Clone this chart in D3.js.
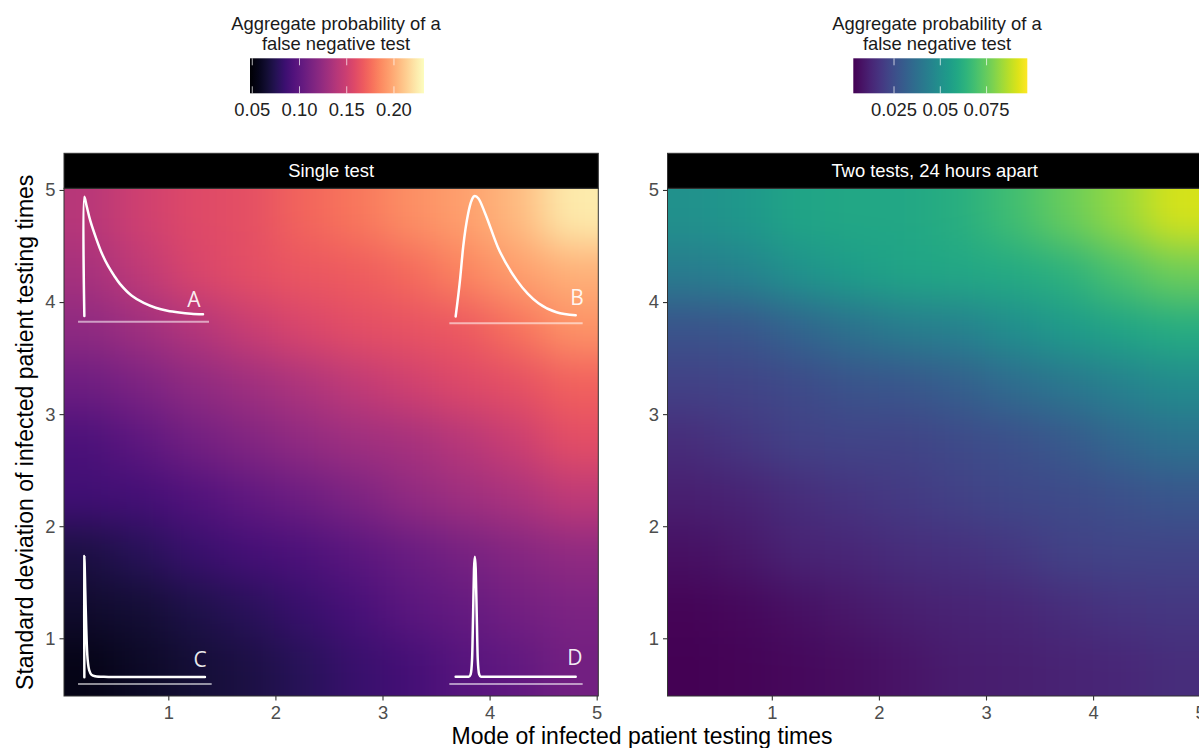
<!DOCTYPE html>
<html><head><meta charset="utf-8">
<script src="https://cdn.jsdelivr.net/npm/d3@7"></script>
<style>
body{margin:0;background:#fff;}
svg{display:block;font-family:"Liberation Sans",Arial,Helvetica,sans-serif;}
</style>
</head><body>
<svg id="chart" width="1199" height="748"></svg>
<script>
// ---------------- DATA ----------------
// grid cell centres (mode on x, standard deviation on y; rows listed top -> bottom)
const modeCenters = [0.25, 0.75, 1.25, 1.75, 2.25, 2.75, 3.25, 3.75, 4.25, 4.75];
const sdCenters   = [4.75, 4.25, 3.75, 3.25, 2.75, 2.25, 1.75, 1.25, 0.75];

// aggregate probability of a false negative test, single test
const singleTest = [
  [0.140,0.151,0.158,0.162,0.172,0.179,0.188,0.195,0.205,0.224],
  [0.133,0.144,0.155,0.161,0.165,0.168,0.174,0.184,0.194,0.201],
  [0.122,0.129,0.138,0.147,0.155,0.160,0.163,0.167,0.177,0.190],
  [0.107,0.114,0.122,0.129,0.136,0.144,0.151,0.157,0.162,0.170],
  [0.092,0.100,0.109,0.116,0.123,0.129,0.133,0.140,0.149,0.160],
  [0.087,0.088,0.094,0.101,0.107,0.114,0.123,0.129,0.134,0.144],
  [0.070,0.076,0.083,0.088,0.092,0.098,0.105,0.111,0.118,0.123],
  [0.063,0.066,0.072,0.077,0.083,0.090,0.098,0.103,0.109,0.114],
  [0.055,0.061,0.066,0.070,0.076,0.083,0.088,0.096,0.101,0.109]
];
// two tests, 24 hours apart
const twoTests = [
  [0.050,0.053,0.058,0.059,0.059,0.062,0.068,0.075,0.082,0.091],
  [0.042,0.045,0.051,0.055,0.058,0.059,0.060,0.063,0.070,0.076],
  [0.027,0.028,0.033,0.038,0.042,0.044,0.049,0.054,0.058,0.061],
  [0.021,0.022,0.024,0.027,0.028,0.031,0.036,0.040,0.044,0.048],
  [0.015,0.018,0.021,0.022,0.022,0.024,0.026,0.029,0.034,0.038],
  [0.011,0.012,0.015,0.017,0.019,0.021,0.023,0.024,0.026,0.028],
  [0.007,0.009,0.012,0.013,0.015,0.016,0.018,0.021,0.022,0.022],
  [0.004,0.005,0.007,0.009,0.011,0.012,0.013,0.015,0.017,0.018],
  [0.003,0.004,0.005,0.006,0.008,0.010,0.011,0.012,0.013,0.015]
];

const xTicks = [1, 2, 3, 4, 5];
const yTicks = [1, 2, 3, 4, 5];
const singleLegendTicks = [0.05, 0.10, 0.15, 0.20];
const twoLegendTicks = [0.025, 0.05, 0.075];
const singleDomain = [0.0476, 0.2318];
const twoDomain = [0.003, 0.097];
const panelTitles = ["Single test", "Two tests, 24 hours apart"];
const legendTitle = ["Aggregate probability of a", "false negative test"];
const xTitle = "Mode of infected patient testing times";
const yTitle = "Standard deviation of infected patient testing times";

// illustrative inset distribution shapes (normalised: u across, v up)
const shapeA = [[0,0],[0,1],[0.02,0.92],[0.05,0.80],[0.1,0.65],[0.15,0.52],[0.2,0.42],[0.25,0.34],[0.3,0.27],[0.4,0.17],[0.5,0.11],[0.6,0.07],[0.7,0.045],[0.8,0.03],[0.9,0.02],[1,0.015]];
const shapeB = [[0,0],[0.036,0.3],[0.063,0.58],[0.105,0.86],[0.135,0.97],[0.16,1],[0.19,0.98],[0.244,0.86],[0.35,0.58],[0.51,0.3],[0.6,0.19],[0.69,0.11],[0.84,0.035],[1,0.01]];
const shapeC = [[0,0],[0,1],[0.008,0.7],[0.016,0.4],[0.027,0.15],[0.04,0.06],[0.06,0.02],[0.09,0.008],[0.2,0.003],[1,0.003]];
const shapeD = [[0,0],[0.11,0],[0.125,0.02],[0.137,0.15],[0.145,0.5],[0.153,0.9],[0.16,1],[0.167,0.9],[0.176,0.5],[0.184,0.15],[0.196,0.02],[0.21,0],[1,0]];

// ---------------- LAYOUT ----------------
const svg = d3.select("#chart");
const panelLefts = [64, 667.5];
const panelTop = 188.3, panelW = 534.3, panelH = 507.7, stripH = 35;
const xDomain = [0.026, 5.015], yDomain = [0.485, 5.015];
const tickFont = 18.4, titleFont = 23;

const defs = svg.append("defs");
const blur = defs.append("filter").attr("id","smooth")
  .attr("x","-30%").attr("y","-30%").attr("width","160%").attr("height","160%")
  .attr("color-interpolation-filters","sRGB");
blur.append("feGaussianBlur").attr("stdDeviation", 20);

const insets = [
  {label:"A", shape:shapeA, smooth:"cr", x:[0.216,1.324], y:[3.875,4.939], base:[0.157,1.380,3.824], lab:[1.240,3.958]},
  {label:"B", shape:shapeB, smooth:"mono", x:[3.683,4.804], y:[3.871,4.946], base:[3.624,4.869,3.810], lab:[4.816,3.973]},
  {label:"C", shape:shapeC, smooth:"cr", x:[0.216,1.342], y:[0.652,1.734], base:[0.157,1.405,0.592], lab:[1.296,0.747]},
  {label:"D", shape:shapeD, smooth:"mono", x:[3.683,4.804], y:[0.657,1.728], base:[3.624,4.869,0.592], lab:[4.797,0.762]}
];

const panels = [
  {values: singleTest, color: d3.scaleSequential(d3.interpolateMagma).domain(singleDomain)},
  {values: twoTests,   color: d3.scaleSequential(d3.interpolateViridis).domain(twoDomain)}
];

panels.forEach((p, pi) => {
  const left = panelLefts[pi];
  const x = d3.scaleLinear().domain(xDomain).range([left, left + panelW]);
  const y = d3.scaleLinear().domain(yDomain).range([panelTop + panelH, panelTop]);
  const g = svg.append("g");

  defs.append("clipPath").attr("id","clip"+pi)
    .append("rect").attr("x", left).attr("y", panelTop).attr("width", panelW).attr("height", panelH);

  const cells = [];
  p.values.forEach((row, ri) => row.forEach((v, ci) => {
    const xc = modeCenters[ci], yc = sdCenters[ri];
    let x0 = xc - 0.25, x1 = xc + 0.25, y0 = yc - 0.25, y1 = yc + 0.25;
    if (ci === 0) x0 -= 0.8;
    if (ci === row.length - 1) x1 += 0.8;
    if (ri === 0) y1 += 0.8;
    if (ri === p.values.length - 1) y0 -= 0.8;
    cells.push({x0, x1, y0, y1, v});
  }));

  g.append("g").attr("clip-path", `url(#clip${pi})`)
    .append("g").attr("filter","url(#smooth)")
    .selectAll("rect").data(cells).join("rect")
    .attr("x", d => x(d.x0) - 0.5)
    .attr("y", d => y(d.y1) - 0.5)
    .attr("width", d => x(d.x1) - x(d.x0) + 1)
    .attr("height", d => y(d.y0) - y(d.y1) + 1)
    .attr("fill", d => p.color(d.v));

  // panel border
  g.append("rect").attr("x", left).attr("y", panelTop).attr("width", panelW).attr("height", panelH)
    .attr("fill","none").attr("stroke","#333").attr("stroke-width",1);
  // strip
  g.append("rect").attr("x", left).attr("y", panelTop - stripH).attr("width", panelW).attr("height", stripH)
    .attr("fill","#000").attr("stroke","#333").attr("stroke-width",1);
  g.append("text").attr("x", left + panelW/2).attr("y", panelTop - stripH/2 + 6.4)
    .attr("text-anchor","middle").attr("fill","#fff").attr("font-size", tickFont)
    .text(panelTitles[pi]);

  // axes
  const xa = g.append("g").attr("transform", `translate(0,${panelTop + panelH})`)
    .call(d3.axisBottom(x).tickValues(xTicks).tickSize(4.5).tickPadding(5.9).tickFormat(d3.format("d")));
  const ya = g.append("g").attr("transform", `translate(${left},0)`)
    .call(d3.axisLeft(y).tickValues(yTicks).tickSize(4.5).tickPadding(4).tickFormat(d3.format("d")));
  [xa, ya].forEach(a => {
    a.select(".domain").remove();
    a.selectAll(".tick line").attr("stroke","#333").attr("stroke-width",1.1);
    a.selectAll(".tick text").attr("fill","#4d4d4d").attr("font-size", tickFont)
      .attr("font-family",'"Liberation Sans",Arial,sans-serif');
  });

  // insets (single test panel only)
  if (pi === 0) {
    insets.forEach(ins => {
      const u = d3.scaleLinear().domain([0,1]).range([x(ins.x[0]), x(ins.x[1])]);
      const v = d3.scaleLinear().domain([0,1]).range([y(ins.y[0]), y(ins.y[1])]);
      const line = d3.line().x(d => u(d[0])).y(d => v(d[1]))
        .curve(ins.smooth === "mono" ? d3.curveMonotoneX : d3.curveCatmullRom.alpha(0.5));
      g.append("line")
        .attr("x1", x(ins.base[0])).attr("x2", x(ins.base[1]))
        .attr("y1", y(ins.base[2])).attr("y2", y(ins.base[2]))
        .attr("stroke","#fff").attr("stroke-opacity",0.55).attr("stroke-width",2);
      g.append("path").attr("d", line(ins.shape))
        .attr("fill","none").attr("stroke","#fff").attr("stroke-width",2.5)
        .attr("stroke-linejoin","round").attr("stroke-linecap","round");
      g.append("text").attr("x", x(ins.lab[0])).attr("y", y(ins.lab[1]))
        .attr("text-anchor","middle").attr("fill","#fff").attr("fill-opacity",0.92)
        .attr("font-family",'"Open Sans","Noto Sans",sans-serif').attr("font-size",21)
        .text(ins.label);
    });
  }
});

// ---------------- LEGENDS ----------------
const legends = [
  {x:[250,424], domain:singleDomain, ticks:singleLegendTicks, interp:d3.interpolateMagma, fmt:d3.format(".2f"), titleX:336},
  {x:[853.3,1027.3], domain:twoDomain, ticks:twoLegendTicks, interp:d3.interpolateViridis, fmt:d => String(d), titleX:937}
];
const barTop = 58.3, barH = 35;
legends.forEach((L, li) => {
  const s = d3.scaleLinear().domain(L.domain).range(L.x);
  const grad = defs.append("linearGradient").attr("id","lg"+li)
    .attr("x1","0%").attr("x2","100%").attr("y1","0%").attr("y2","0%");
  d3.range(0, 1.0001, 0.05).forEach(t => {
    grad.append("stop").attr("offset", (t*100)+"%").attr("stop-color", L.interp(t));
  });
  const lg = svg.append("g");
  lg.append("rect").attr("x", L.x[0]).attr("y", barTop).attr("width", L.x[1]-L.x[0]).attr("height", barH)
    .attr("fill", `url(#lg${li})`);
  L.ticks.forEach(t => {
    const tx = s(t);
    lg.append("line").attr("x1",tx).attr("x2",tx).attr("y1",barTop).attr("y2",barTop+7)
      .attr("stroke","#fff").attr("stroke-opacity",0.7).attr("stroke-width",1);
    lg.append("line").attr("x1",tx).attr("x2",tx).attr("y1",barTop+barH-7).attr("y2",barTop+barH)
      .attr("stroke","#fff").attr("stroke-opacity",0.7).attr("stroke-width",1);
    lg.append("text").attr("x",tx).attr("y",116).attr("text-anchor","middle")
      .attr("font-size",tickFont).attr("fill","#222").text(L.fmt(t));
  });
  legendTitle.forEach((line, i) => {
    lg.append("text").attr("x", L.titleX).attr("y", 30 + i*19.5).attr("text-anchor","middle")
      .attr("font-size",18.4).attr("fill","#1a1a1a").text(line);
  });
});

// ---------------- AXIS TITLES ----------------
svg.append("text").attr("x", 642).attr("y", 744).attr("text-anchor","middle")
  .attr("font-size", titleFont).attr("fill","#000").text(xTitle);
svg.append("text").attr("transform","translate(33,432.3) rotate(-90)").attr("text-anchor","middle")
  .attr("font-size", titleFont).attr("fill","#000").text(yTitle);
</script>
</body></html>
